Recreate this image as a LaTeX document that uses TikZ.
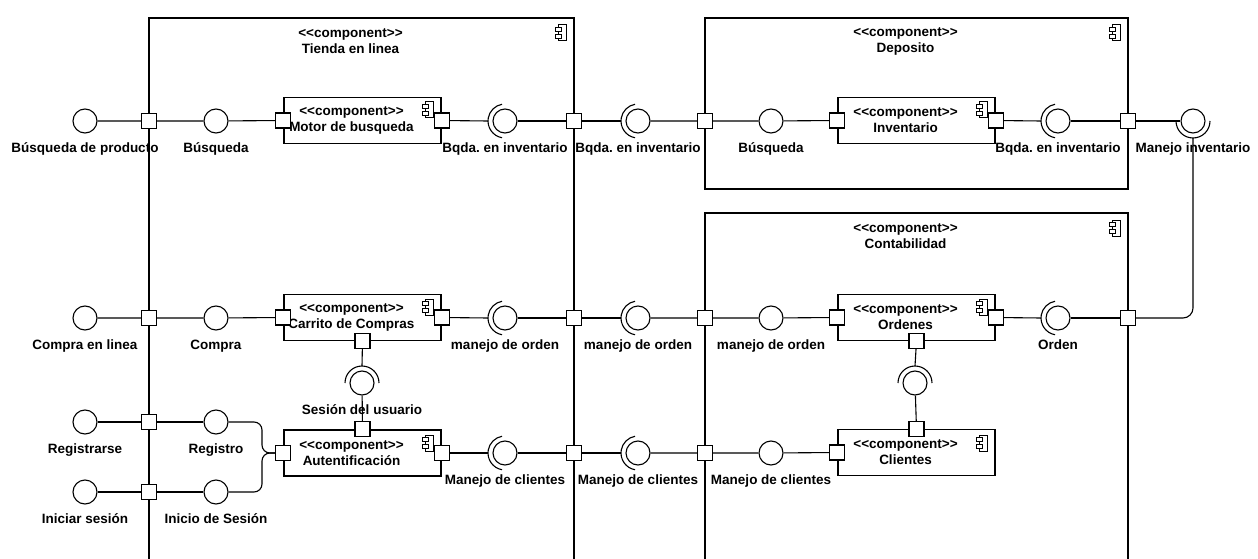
\documentclass[tikz,border=0pt]{standalone}
\usepackage{fontspec}
\setmainfont{Liberation Sans}
\usetikzlibrary{positioning}
\frenchspacing
\newcommand{\stereo}{<\kern0pt<component>\kern0pt>}

\tikzset{
  cont/.style={line width=1.3pt},
  conn/.style={line width=1.1pt},
  port/.style={draw, line width=1.1pt, fill=white, minimum size=15pt, inner sep=0pt},
  iface/.style={circle, draw, line width=1.1pt, fill=white, minimum size=24pt, inner sep=0pt},
  lbl/.style={font=\fontsize{13.5}{16}\selectfont\bfseries, text height=10pt, text depth=3pt, inner sep=2pt},
  comp/.style={draw, line width=1.3pt, fill=white, minimum width=157pt, minimum height=46pt, inner sep=0pt},
  ctext/.style={align=center, font=\fontsize{13.5}{16}\selectfont\bfseries, inner sep=0pt},
  compicon/.pic={
    \draw[line width=1pt, fill=white] (-3,-8) rectangle (5,8);
    \draw[line width=1pt, fill=white] (-6,-5.5) rectangle (0,-1.5);
    \draw[line width=1pt, fill=white] (-6,1.5) rectangle (0,5.5);
  }
}

\begin{document}
\begin{tikzpicture}[x=1pt,y=-1pt]
  \useasboundingbox (0,0) rectangle (1258,559);

  % containers
  \draw[cont] (149,565) -- (149,18) -- (574,18) -- (574,565);
  \draw[cont] (705,18) rectangle (1128,189);
  \draw[cont] (705,565) -- (705,213) -- (1128,213) -- (1128,565);
  \node[ctext] (tiendaT) at (350.5,41) {\stereo\\Tienda en linea};
  \node[ctext] (depoT) at (905.5,41) {\stereo\\Deposito};
  \node[ctext] (contaT) at (905.5,236) {\stereo\\Contabilidad};
  \pic at (561,33) {compicon};
  \pic at (1115,33) {compicon};
  \pic at (1115,228) {compicon};

  % components
  \node[comp] (motor) at (362.5,120.5) {};
  \node[comp] (carrito) at (362.5,317.5) {};
  \node[comp] (auten) at (362.5,453) {};
  \node[comp] (inven) at (916.5,120.5) {};
  \node[comp] (orden) at (916.5,317.5) {};
  \node[comp] (clien) at (916.5,452.5) {};
  \node[ctext] at ([xshift=-11pt]motor.center) {\stereo\\Motor de busqueda};
  \node[ctext] at ([xshift=-11pt]carrito.center) {\stereo\\Carrito de Compras};
  \node[ctext] at ([xshift=-11pt]auten.center) {\stereo\\Autentificación};
  \node[ctext] at ([xshift=-11pt]inven.center) {\stereo\\Inventario};
  \node[ctext] at ([xshift=-11pt]orden.center) {\stereo\\Ordenes};
  \node[ctext] at ([xshift=-11pt]clien.center) {\stereo\\Clientes};
  \pic at (428,110) {compicon};
  \pic at (428,307) {compicon};
  \pic at (428,443) {compicon};
  \pic at (982,110) {compicon};
  \pic at (982,307) {compicon};
  \pic at (982,443) {compicon};

  % ports
  \node[port] (pT1) at (149,121) {};
  \node[port] (pT2) at (149,318) {};
  \node[port] (pT3) at (149,422) {};
  \node[port] (pT4) at (149,492) {};
  \node[port] (pT5) at (574,121) {};
  \node[port] (pT6) at (574,318) {};
  \node[port] (pT7) at (574,453) {};
  \node[port] (pD1) at (705,121) {};
  \node[port] (pD2) at (1128,121) {};
  \node[port] (pC1) at (705,318) {};
  \node[port] (pC2) at (1128,318) {};
  \node[port] (pC3) at (705,453) {};
  \node[port] (pMo1) at (motor.west) {};
  \node[port] (pMo2) at (motor.east) {};
  \node[port] (pCa1) at (carrito.west) {};
  \node[port] (pCa2) at (carrito.east) {};
  \node[port] (pCa3) at (carrito.south) {};
  \node[port] (pAu1) at (auten.west) {};
  \node[port] (pAu2) at (auten.east) {};
  \node[port] (pAu3) at (auten.north) {};
  \node[port] (pIn1) at (inven.west) {};
  \node[port] (pIn2) at (inven.east) {};
  \node[port] (pOr1) at (orden.west) {};
  \node[port] (pOr2) at (orden.east) {};
  \node[port] (pOr3) at (orden.south) {};
  \node[port] (pCl1) at (clien.west) {};
  \node[port] (pCl3) at (clien.north) {};

  % provided interfaces
  \node[iface] (oBusq) at (85,121) {};
  \node[iface] (bBusq) at (216,121) {};
  \node[iface] (bBusq2) at (771,121) {};
  \node[iface] (oCompra) at (85,318) {};
  \node[iface] (bCompra) at (216,318) {};
  \node[iface] (bOrden) at (771,318) {};
  \node[iface] (oReg) at (85,422) {};
  \node[iface] (bReg) at (216,422) {};
  \node[iface] (oIni) at (85,492) {};
  \node[iface] (bIni) at (216,492) {};
  \node[iface] (bCli) at (771,453) {};

  % required interfaces (ball + socket)
  \node[iface] (sBq1) at (505,121) {};
  \node[iface] (sBq2) at (638,121) {};
  \node[iface] (sBq3) at (1058,121) {};
  \node[iface] (sMinv) at (1193,121) {};
  \node[iface] (sOr1) at (505,318) {};
  \node[iface] (sOr2) at (638,318) {};
  \node[iface] (sOr3) at (1058,318) {};
  \node[iface] (sSes) at (362,383) {};
  \node[iface] (sOC) at (915,383) {};
  \node[iface] (sCl1) at (505,453) {};
  \node[iface] (sCl2) at (638,453) {};
  \draw[conn] ([shift={(100:17)}]sBq1.center) arc[start angle=100, end angle=260, radius=17];
  \draw[conn] ([shift={(100:17)}]sBq2.center) arc[start angle=100, end angle=260, radius=17];
  \draw[conn] ([shift={(100:17)}]sBq3.center) arc[start angle=100, end angle=260, radius=17];
  \draw[conn] ([shift={(100:17)}]sOr1.center) arc[start angle=100, end angle=260, radius=17];
  \draw[conn] ([shift={(100:17)}]sOr2.center) arc[start angle=100, end angle=260, radius=17];
  \draw[conn] ([shift={(100:17)}]sOr3.center) arc[start angle=100, end angle=260, radius=17];
  \draw[conn] ([shift={(100:17)}]sCl1.center) arc[start angle=100, end angle=260, radius=17];
  \draw[conn] ([shift={(100:17)}]sCl2.center) arc[start angle=100, end angle=260, radius=17];
  \draw[conn] ([shift={(180:17)}]sSes.center) arc[start angle=180, end angle=360, radius=17];
  \draw[conn] ([shift={(180:17)}]sOC.center) arc[start angle=180, end angle=360, radius=17];
  \draw[conn] ([shift={(0:17)}]sMinv.center) arc[start angle=0, end angle=180, radius=17];
  \coordinate (aBq1) at ([xshift=-17pt]sBq1.center);
  \coordinate (aBq2) at ([xshift=-17pt]sBq2.center);
  \coordinate (aBq3) at ([xshift=-17pt]sBq3.center);
  \coordinate (aOr1) at ([xshift=-17pt]sOr1.center);
  \coordinate (aOr2) at ([xshift=-17pt]sOr2.center);
  \coordinate (aOr3) at ([xshift=-17pt]sOr3.center);
  \coordinate (aCl1) at ([xshift=-17pt]sCl1.center);
  \coordinate (aCl2) at ([xshift=-17pt]sCl2.center);
  \coordinate (aSes) at ([yshift=17pt]sSes.center);
  \coordinate (aOC) at ([yshift=17pt]sOC.center);
  \coordinate (aMinv) at ([yshift=-17pt]sMinv.center);
  \coordinate (brace) at (262,453);

  % connectors
  \draw[conn] (oBusq) -- (pT1) -- (bBusq) -- (pMo1);
  \draw[conn] (pMo2) -- (aBq1);
  \draw[conn] (sBq1) -- (pT5) -- (aBq2);
  \draw[conn] (sBq2) -- (pD1) -- (bBusq2) -- (pIn1);
  \draw[conn] (pIn2) -- (aBq3);
  \draw[conn] (sBq3) -- (pD2) -- (sMinv);
  \draw[conn, rounded corners=10pt] (aMinv) |- (pC2);
  \draw[conn] (oCompra) -- (pT2) -- (bCompra) -- (pCa1);
  \draw[conn] (pCa2) -- (aOr1);
  \draw[conn] (sOr1) -- (pT6) -- (aOr2);
  \draw[conn] (sOr2) -- (pC1) -- (bOrden) -- (pOr1);
  \draw[conn] (pOr2) -- (aOr3);
  \draw[conn] (sOr3) -- (pC2);
  \draw[conn] (pCa3) -- (aSes);
  \draw[conn] (sSes) -- (pAu3);
  \draw[conn] (pOr3) -- (aOC);
  \draw[conn] (sOC) -- (pCl3);
  \draw[conn] (pAu2) -- (aCl1);
  \draw[conn] (sCl1) -- (pT7) -- (aCl2);
  \draw[conn] (sCl2) -- (pC3) -- (bCli) -- (pCl1);
  \draw[conn] (oReg) -- (pT3) -- (bReg);
  \draw[conn] (oIni) -- (pT4) -- (bIni);
  \draw[conn, rounded corners=8pt] (bReg) -| (brace) -- (pAu1);
  \draw[conn, rounded corners=8pt] (bIni) -| (brace) -- (pAu1);

  % labels
  \node[lbl, below=7pt of oBusq] (tBusqProd) {Búsqueda de producto};
  \node[lbl, below=7pt of bBusq] (tBusq) {Búsqueda};
  \node[lbl, below=7pt of sBq1] (tBq1) {Bqda. en inventario};
  \node[lbl, below=7pt of sBq2] (tBq2) {Bqda. en inventario};
  \node[lbl, below=7pt of bBusq2] (tBusq2) {Búsqueda};
  \node[lbl, below=7pt of sBq3] (tBq3) {Bqda. en inventario};
  \node[lbl, below=7pt of sMinv] (tMinv) {Manejo inventario};
  \node[lbl, below=7pt of oCompra] (tCompraL) {Compra en linea};
  \node[lbl, below=7pt of bCompra] (tCompra) {Compra};
  \node[lbl, below=7pt of sOr1] (tOr1) {manejo de orden};
  \node[lbl, below=7pt of sOr2] (tOr2) {manejo de orden};
  \node[lbl, below=7pt of bOrden] (tOr3) {manejo de orden};
  \node[lbl, below=7pt of sOr3] (tOrden) {Orden};
  \node[lbl, below=7pt of sSes] (tSes) {Sesión del usuario};
  \node[lbl, below=7pt of sCl1] (tCl1) {Manejo de clientes};
  \node[lbl, below=7pt of sCl2] (tCl2) {Manejo de clientes};
  \node[lbl, below=7pt of bCli] (tCl3) {Manejo de clientes};
  \node[lbl, below=7pt of oReg] (tRegse) {Registrarse};
  \node[lbl, below=7pt of bReg] (tReg) {Registro};
  \node[lbl, below=7pt of oIni] (tIniS) {Iniciar sesión};
  \node[lbl, below=7pt of bIni] (tIni) {Inicio de Sesión};
\end{tikzpicture}
\end{document}
